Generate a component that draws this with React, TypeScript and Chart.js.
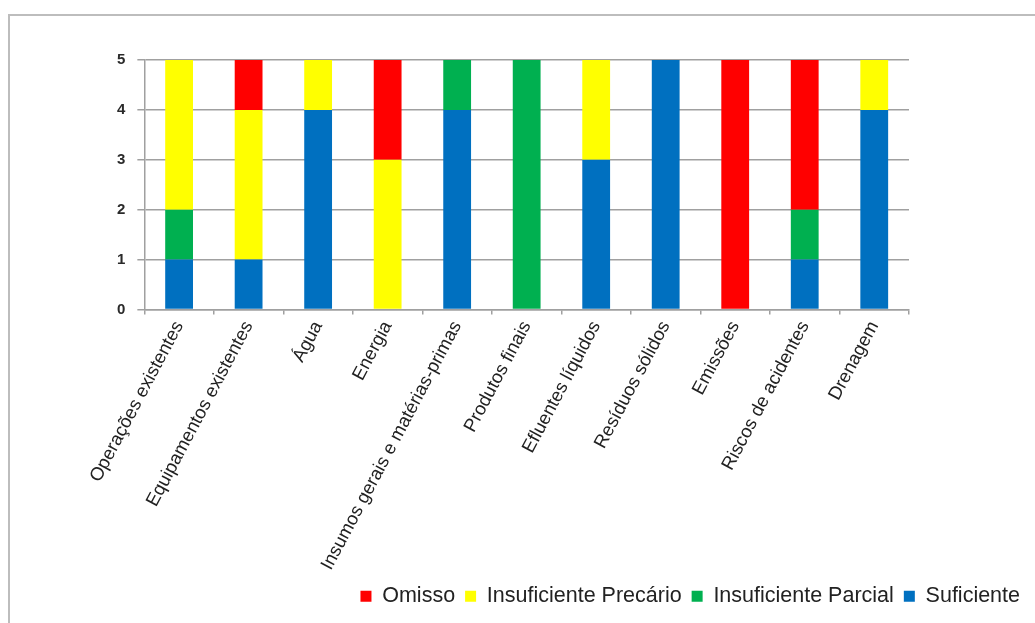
import React, { useEffect, useRef } from "react";
import { Chart, registerables } from "chart.js";

Chart.register(...registerables);

const categories = [
  "Operações existentes",
  "Equipamentos existentes",
  "Água",
  "Energia",
  "Insumos gerais e matérias-primas",
  "Produtos finais",
  "Efluentes líquidos",
  "Resíduos sólidos",
  "Emissões",
  "Riscos de acidentes",
  "Drenagem",
];

// stacked bottom -> top
const suficiente = [1, 1, 4, 0, 4, 0, 3, 5, 0, 1, 4];
const insuficienteParcial = [1, 0, 0, 0, 1, 5, 0, 0, 0, 1, 0];
const insuficientePrecario = [3, 3, 1, 3, 0, 0, 2, 0, 0, 0, 1];
const omisso = [0, 1, 0, 2, 0, 0, 0, 0, 5, 3, 0];

const yMin = 0;
const yMax = 5;
const yStep = 1;

const FONT = "'Liberation Sans', Arial, Helvetica, sans-serif";
const GRID = "#a0a0a0";

export default function App() {
  const canvasRef = useRef<HTMLCanvasElement | null>(null);

  useEffect(() => {
    document.body.style.overflow = "hidden";
    const canvas = canvasRef.current;
    if (!canvas) return;
    const chart = new Chart(canvas, {
      type: "bar",
      data: {
        labels: categories,
        datasets: [
          { label: "Suficiente", data: suficiente, backgroundColor: "#0070C0" },
          { label: "Insuficiente Parcial", data: insuficienteParcial, backgroundColor: "#00B050" },
          { label: "Insuficiente Precário", data: insuficientePrecario, backgroundColor: "#FFFF00" },
          { label: "Omisso", data: omisso, backgroundColor: "#FF0000" },
        ],
      },
      options: {
        responsive: false,
        animation: false,
        datasets: {
          bar: { categoryPercentage: 1, barPercentage: 0.4, borderWidth: 0 },
        },
        layout: { padding: { top: 60, left: 105, right: 5, bottom: 6 } },
        plugins: {
          title: { display: false },
          tooltip: { enabled: false },
          legend: {
            display: true,
            position: "bottom",
            align: "end",
            reverse: true,
            labels: {
              boxWidth: 11,
              boxHeight: 11,
              padding: 10,
              color: "#222",
              font: { family: FONT, size: 21.5 },
            },
          },
        },
        scales: {
          x: {
            stacked: true,
            grid: {
              display: true,
              drawOnChartArea: false,
              drawTicks: true,
              tickLength: 5,
              color: GRID,
              lineWidth: 1.5,
              offset: true,
            },
            border: { display: true, color: GRID, width: 1.5 },
            ticks: {
              minRotation: 62,
              maxRotation: 62,
              autoSkip: false,
              padding: 3,
              color: "#222",
              font: { family: FONT, size: 18.5 },
            },
            afterFit: (s: any) => {
              s.height = 266;
            },
          },
          y: {
            stacked: true,
            min: yMin,
            max: yMax,
            grid: {
              display: true,
              drawTicks: true,
              tickLength: 7,
              color: GRID,
              lineWidth: 1.5,
            },
            border: { display: true, color: GRID, width: 1.5 },
            ticks: {
              stepSize: yStep,
              padding: 12,
              color: "#2a2a2a",
              font: { family: FONT, size: 15, weight: "bold" },
            },
          },
          yR: {
            type: "linear",
            position: "right",
            display: true,
            grid: { display: false },
            border: { display: false },
            ticks: { display: false },
            afterFit: (s: any) => {
              s.width = 121;
            },
          },
        },
      } as any,
    });
    return () => chart.destroy();
  }, []);

  return (
    <div>
      <div
        style={{
          position: "fixed",
          left: 8,
          top: 14,
          width: 1200,
          height: 800,
          borderLeft: "2px solid #bdbdbd",
          borderTop: "2px solid #bdbdbd",
          boxSizing: "border-box",
        }}
      />
      <canvas
        ref={canvasRef}
        width={1035}
        height={623}
        style={{ position: "fixed", left: 0, top: 0, width: 1035, height: 623 }}
      />
    </div>
  );
}
